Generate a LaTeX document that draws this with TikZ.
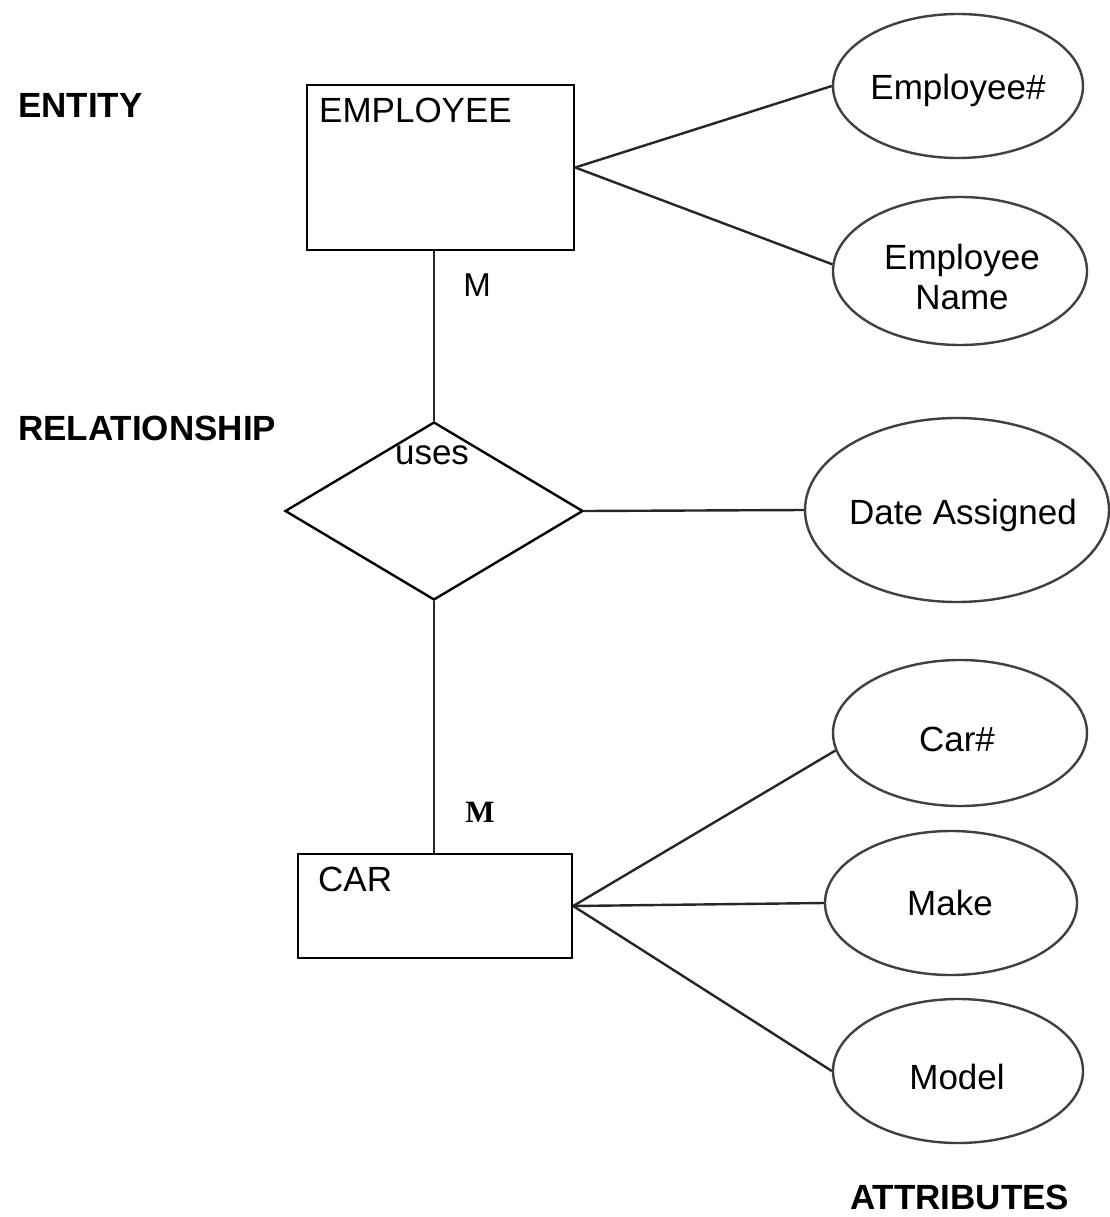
\documentclass[tikz,border=0pt]{standalone}
\usepackage{fontspec}
\setmainfont{Liberation Sans}
\newfontfamily\serifbold{Liberation Serif}
\usetikzlibrary{shapes.geometric}
\begin{document}
\begin{tikzpicture}[x=1pt,y=-1pt,
  every node/.style={font=\fontsize{35}{40}\selectfont},
  entitybox/.style={draw=black,line width=2.4pt,rectangle,inner sep=0pt},
  relbox/.style={draw=black,line width=2.4pt,diamond,inner sep=0pt},
  attrib/.style={draw=black!75,line width=2.4pt,ellipse,inner sep=0pt},
  txt/.style={inner sep=0pt,align=center},
  heading/.style={font=\fontsize{35}{40}\selectfont\bfseries,anchor=west,inner sep=0pt},
  conn/.style={draw=black!85,line width=2.4pt},
  card/.style={inner sep=0pt}]
\useasboundingbox (0,0) rectangle (1109,1217);
\fill[white] (0,0) rectangle (1109,1217);

% headings
\node[heading] (hEntity) at (18,105) {ENTITY};
\node[heading] (hRel) at (18,428) {RELATIONSHIP};
\node[heading] (hAttr) at (850,1197) {ATTRIBUTES};

% entities
\node[entitybox,minimum width=267pt,minimum height=165pt] (emp) at (440.5,167.5) {};
\node[txt,anchor=west] (empT) at (319,110) {EMPLOYEE};
\node[entitybox,minimum width=274pt,minimum height=104pt] (car) at (435,906) {};
\node[txt,anchor=west] (carT) at (318,879) {CAR};

% relationship
\node[relbox,minimum width=298pt,minimum height=178pt] (dia) at (434,511) {};
\node[txt] (usesT) at (432,455) {uses};

% attributes
\node[attrib,minimum width=250pt,minimum height=144pt] (a1) at (958,86) {};
\node[attrib,minimum width=254pt,minimum height=148pt] (a2) at (960,271) {};
\node[attrib,minimum width=304pt,minimum height=184pt] (a3) at (957,510) {};
\node[attrib,minimum width=254pt,minimum height=146pt] (a4) at (960,733) {};
\node[attrib,minimum width=252pt,minimum height=144pt] (a5) at (951,903) {};
\node[attrib,minimum width=250pt,minimum height=144pt] (a6) at (958,1071) {};
\node[txt] (t1) at (958,90) {Employee\#};
\node[txt] (t2) at (962,277) {Employee\\Name};
\node[txt] (t3) at (963,515) {Date Assigned};
\node[txt] (t4) at (957,739) {Car\#};
\node[txt] (t5) at (950,903) {Make};
\node[txt] (t6) at (957,1077) {Model};

% cardinalities
\node[card] (m1) at (477,285) {\fontsize{33}{36}\selectfont M};
\node[card] (m2) at (480,812) {\serifbold\bfseries\fontsize{31}{36}\selectfont M};

% connectors
\draw[conn] (dia.north |- emp.south) -- (dia.north);
\draw[conn] (dia.south) -- (dia.south |- car.north);
\draw[conn] (emp.east) -- (a1.west);
\draw[conn] (emp.east) -- (a2.177);
\draw[conn] (dia.east) -- (a3.west);
\draw[conn] (car.east) -- (a4.188);
\draw[conn] (car.east) -- (a5.west);
\draw[conn] (car.east) -- (a6.west);
\end{tikzpicture}
\end{document}
